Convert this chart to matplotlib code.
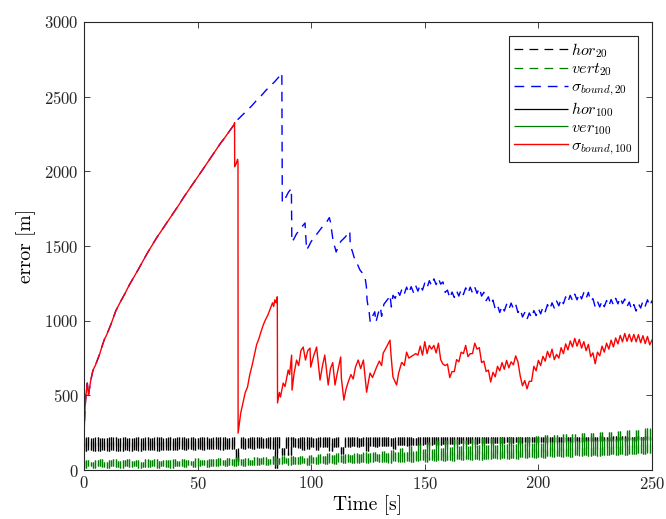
import numpy as np
import matplotlib
matplotlib.use('Agg')
import matplotlib.pyplot as plt

plt.rcParams['font.family'] = 'cmr10'
plt.rcParams['mathtext.fontset'] = 'cm'
plt.rcParams['axes.formatter.use_mathtext'] = True

# horizontal / vertical errors, 1 s samples from t = 0 to 250
osc_t = np.arange(0, 251)
hor_100 = [
    215, 128, 219, 132, 217, 126, 220, 130, 218, 134,
    216, 129, 219, 133, 221, 127, 217, 131, 219, 135,
    218, 130, 216, 134, 220, 129, 218, 136, 221, 132,
    217, 137, 219, 131, 222, 135, 218, 133, 220, 138,
    216, 134, 219, 139, 221, 136, 217, 140, 220, 135,
    218, 141, 222, 137, 219, 142, 217, 139, 221, 143,
    219, 138, 220, 144, 218, 141, 222, 145, 60, 146,
    220, 143, 218, 147, 221, 144, 219, 148, 222, 146,
    218, 149, 221, 145, 219, 15, 220, 147, 100, 151,
    219, 100, 222, 152, 218, 148, 221, 138, 219, 140,
    220, 154, 218, 135, 222, 156, 219, 152, 221, 130,
    218, 157, 220, 153, 110, 158, 222, 155, 219, 159,
    221, 156, 218, 160, 222, 130, 220, 161, 219, 158,
    221, 163, 219, 160, 222, 165, 218, 140, 221, 166,
    219, 168, 222, 164, 220, 170, 218, 167, 221, 171,
    220, 173, 222, 169, 219, 175, 221, 172, 223, 176,
    220, 174, 222, 178, 219, 175, 221, 179, 223, 177,
    221, 180, 219, 178, 222, 182, 220, 179, 223, 183,
    221, 181, 223, 185, 220, 182, 222, 186, 224, 184,
    221, 187, 223, 185, 222, 188, 224, 186, 221, 189,
    223, 190, 222, 188, 224, 191, 221, 189, 225, 192,
    222, 190, 224, 193, 223, 191, 225, 194, 222, 192,
    224, 195, 223, 193, 225, 196, 222, 194, 226, 197,
    225, 195, 223, 198, 226, 196, 224, 199, 227, 197,
    225, 200, 223, 198, 227, 201, 224, 199, 226, 202,
    225,
]
ver_100 = [
    62, 18, 70, 25, 55, 12, 68, 30, 74, 20,
    58, 15, 66, 28, 72, 22, 60, 14, 69, 26,
    75, 19, 63, 31, 70, 17, 57, 24, 73, 21,
    66, 27, 78, 16, 61, 29, 71, 23, 67, 18,
    74, 30, 59, 25, 76, 20, 68, 32, 63, 22,
    80, 28, 70, 35, 65, 24, 77, 31, 72, 26,
    84, 33, 69, 27, 79, 36, 74, 30, 88, 38,
    76, 29, 85, 37, 71, 34, 90, 32, 80, 40,
    87, 35, 78, 42, 92, 33, 84, 39, 95, 45,
    82, 36, 98, 44, 88, 40, 94, 47, 85, 38,
    102, 46, 90, 41, 108, 50, 96, 44, 112, 48,
    99, 43, 115, 52, 104, 47, 110, 55, 100, 45,
    118, 50, 106, 57, 122, 48, 112, 54, 125, 60,
    110, 52, 128, 58, 116, 50, 132, 62, 120, 55,
    150, 58, 125, 64, 160, 55, 130, 60, 175, 66,
    140, 58, 190, 65, 145, 60, 200, 68, 150, 62,
    205, 70, 155, 63, 210, 72, 160, 66, 200, 74,
    165, 68, 212, 75, 170, 70, 215, 78, 168, 72,
    218, 80, 172, 74, 220, 82, 175, 76, 222, 84,
    178, 78, 225, 86, 180, 80, 222, 88, 182, 82,
    230, 90, 185, 84, 235, 92, 190, 86, 238, 95,
    192, 88, 240, 97, 195, 90, 245, 99, 198, 93,
    250, 100, 200, 95, 248, 102, 205, 98, 255, 104,
    208, 100, 258, 106, 210, 102, 262, 108, 215, 104,
    268, 110, 218, 106, 272, 112, 222, 108, 280, 114,
    285,
]
# with 20 satellites the position errors are the same
hor_20 = hor_100
vert_20 = ver_100

# error bound before the first reset (shared by both runs)
growth_t = [0, 0.5, 1, 1.5, 2, 3, 4, 5, 6, 7, 8, 9, 10, 12, 14, 16, 18, 20,
            22, 24, 26, 28, 30, 32, 34, 36, 38, 40, 42, 44, 46, 48, 50, 52,
            54, 56, 58, 60, 62, 64, 66, 66.3]
growth_v = [220, 420, 520, 583, 500, 600, 670, 700, 740, 780, 830, 875, 905,
            980, 1065, 1125, 1180, 1240, 1292, 1345, 1400, 1455, 1505, 1555,
            1600, 1645, 1690, 1735, 1780, 1828, 1872, 1915, 1960, 2005, 2050,
            2095, 2140, 2185, 2225, 2268, 2310, 2325]

bound100_t = [
    66.35, 67, 67.6, 67.8, 67.85, 69, 70, 71, 72, 73, 74, 75, 76, 77, 78,
    79, 80, 81, 82, 83, 83.5, 84, 84.5, 85.1, 85.2, 86, 86.5, 87.7, 88.5,
    89.9, 90.5, 91.4, 91.6, 92.5, 93.6, 94.5, 95.5, 96.5, 97.5, 98.5, 99.5,
    99.8, 101, 102.4, 103.9, 105, 106, 107.5, 108.5, 109.5, 110.5, 111.5,
    113, 113.3, 114.4, 115.3, 116.3, 117.5, 118.5, 119.5, 120.7, 121.8, 123,
    124.4, 125.9, 127, 128.8, 130, 131, 131.7, 133, 134.7, 135.2, 136,
    137.6, 138.5, 139.8,
    140, 141, 142, 143, 144, 145, 146, 147, 148, 149,
    150, 151, 152, 153, 154, 155, 156, 157, 158, 159,
    160, 161, 162, 163, 164, 165, 166, 167, 168, 169,
    170, 171, 172, 173, 174, 175, 176, 177, 178, 179,
    180, 181, 182, 183, 184, 185, 186, 187, 188, 189,
    190, 191, 192, 193, 194, 195, 196, 197, 198, 199,
    200, 201, 202, 203, 204, 205, 206, 207, 208, 209,
    210, 211, 212, 213, 214, 215, 216, 217, 218, 219,
    220, 221, 222, 223, 224, 225, 226, 227, 228, 229,
    230, 231, 232, 233, 234, 235, 236, 237, 238, 239,
    240, 241, 242, 243, 244, 245, 246, 247, 248, 249, 250,
]
bound100_v = [
    2030, 2050, 2080, 2060, 248, 382, 450, 520, 557, 640, 700, 770, 840, 880,
    930, 975, 1010, 1040, 1080, 1120, 1095, 1140, 1120, 1160, 450, 520, 490,
    583, 560, 670, 640, 770, 536, 650, 737, 700, 800, 824, 737, 800, 817,
    690, 760, 824, 603, 700, 770, 570, 680, 720, 570, 650,
    757, 616, 469, 540, 590, 640, 610, 690, 737, 680, 737,
    522, 650, 620, 690, 730, 700, 783, 820, 870, 760, 623,
    570, 650, 720,
    720, 700, 790, 750, 760, 770, 780, 770, 830, 770,
    860, 780, 835, 810, 835, 785, 850, 740, 710, 700,
    710, 620, 660, 660, 740, 725, 790, 780, 835, 760,
    780, 780, 850, 810, 820, 720, 730, 660, 670, 590,
    655, 625, 695, 665, 720, 675, 735, 685, 725, 705,
    765, 725, 630, 565, 600, 545, 595, 595, 695, 665,
    735, 700, 762, 730, 795, 755, 810, 740, 775, 750,
    820, 780, 845, 805, 865, 825, 882, 830, 875, 817,
    860, 800, 842, 760, 785, 712, 790, 765, 830, 790,
    850, 810, 870, 825, 885, 845, 902, 859, 915, 863,
    910, 860, 909, 859, 907, 853, 900, 847, 895, 839, 870,
]

bound20_t = [
    68, 70, 72, 74, 76, 78, 80, 82, 84, 86, 87.1, 87.3, 88, 89, 90, 91.3,
    91.5, 92.5, 93.5, 95, 96, 97.3, 98, 99, 100, 101, 102, 103, 104, 105,
    106, 107, 108, 108.5, 109.6, 111, 112, 113, 114, 115, 116, 117, 117.2,
    118, 119, 120, 121.5, 122.5, 123.7, 124.3, 124.6, 125, 125.5, 126, 127,
    128, 128.5, 129.5, 130.5, 131, 132, 133, 134, 134.7, 135.3,
    136, 137, 138, 139,
    140, 141, 142, 143, 144, 145, 146, 147, 148, 149,
    150, 151, 152, 153, 154, 155, 156, 157, 158, 159,
    160, 161, 162, 163, 164, 165, 166, 167, 168, 169,
    170, 171, 172, 173, 174, 175, 176, 177, 178, 179,
    180, 181, 182, 183, 184, 185, 186, 187, 188, 189,
    190, 191, 192, 193, 194, 195, 196, 197, 198, 199,
    200, 201, 202, 203, 204, 205, 206, 207, 208, 209,
    210, 211, 212, 213, 214, 215, 216, 217, 218, 219,
    220, 221, 222, 223, 224, 225, 226, 227, 228, 229,
    230, 231, 232, 233, 234, 235, 236, 237, 238, 239,
    240, 241, 242, 243, 244, 245, 246, 247, 248, 249, 250,
]
bound20_v = [
    2350, 2380, 2410, 2440, 2475, 2505, 2540, 2570, 2600, 2635, 2658, 1790,
    1800, 1830, 1860, 1885, 1527, 1550, 1580, 1610, 1630, 1654, 1473, 1500,
    1530, 1550, 1570, 1590, 1610, 1630, 1645, 1665, 1690, 1660, 1540, 1460,
    1500, 1530, 1545, 1560, 1580, 1600, 1507, 1470, 1420, 1390, 1339, 1320,
    1292, 1230, 1140, 1100, 1060, 991, 1030, 1060, 990, 1050, 1090, 1030,
    1110, 1130, 1150, 1172, 1092,
    1170, 1150, 1200, 1170,
    1215, 1180, 1225, 1185, 1228, 1190, 1235, 1198, 1242, 1205,
    1252, 1220, 1268, 1235, 1280, 1242, 1284, 1245, 1260, 1190,
    1205, 1150, 1192, 1156, 1200, 1165, 1210, 1175, 1220, 1183,
    1225, 1186, 1225, 1183, 1220, 1165, 1190, 1135, 1160, 1108,
    1138, 1080, 1105, 1055, 1100, 1065, 1110, 1075, 1118, 1080,
    1110, 1055, 1080, 1025, 1055, 1010, 1052, 1020, 1068, 1035,
    1082, 1046, 1092, 1060, 1108, 1075, 1120, 1085, 1132, 1100,
    1147, 1114, 1160, 1126, 1170, 1135, 1178, 1140, 1183, 1146,
    1188, 1150, 1190, 1130, 1148, 1092, 1130, 1092, 1133, 1094,
    1135, 1098, 1142, 1106, 1150, 1113, 1155, 1115, 1145, 1095,
    1125, 1075, 1108, 1065, 1115, 1085, 1132, 1098, 1140, 1098, 1135,
]

green = (0, 0.5, 0)
dash = (7, 5)

fig, ax = plt.subplots(figsize=(6.66, 5.19), dpi=100)
fig.subplots_adjust(left=0.126, right=0.979, bottom=0.094, top=0.958)

# fast oscillating errors: one stroke per sample, from value to next value
ax.vlines(osc_t[:-1], hor_20[:-1], hor_20[1:], color='k', lw=0.9,
          linestyles=[(0, dash)], label=r'$hor_{20}$')
ax.vlines(osc_t[:-1], vert_20[:-1], vert_20[1:], color=green, lw=0.9,
          linestyles=[(0, dash)], label=r'$vert_{20}$')
ax.plot(growth_t + bound20_t, growth_v + bound20_v, color='b', lw=1.0,
        dashes=dash, label=r'$\sigma_{bound,20}$')
ax.vlines(osc_t[:-1], hor_100[:-1], hor_100[1:], color='k', lw=0.9,
          label=r'$hor_{100}$')
ax.vlines(osc_t[:-1], ver_100[:-1], ver_100[1:], color=green, lw=0.9,
          label=r'$ver_{100}$')
ax.plot(growth_t + bound100_t, growth_v + bound100_v, color='r', lw=1.0,
        label=r'$\sigma_{bound,100}$')

ax.set_xlim(0, 250)
ax.set_ylim(0, 3000)
ax.set_xticks(np.arange(0, 251, 50))
ax.set_yticks(np.arange(0, 3001, 500))
ax.tick_params(direction='in', length=4, width=0.6, labelsize=12,
               top=True, right=True, colors='0.15')
for s in ax.spines.values():
    s.set_color('0.15')
    s.set_linewidth(0.8)
ax.set_xlabel('Time [s]', fontsize=14, labelpad=2)
ax.set_ylabel('error [m]', fontsize=14, labelpad=6)

leg = ax.legend(loc='upper right', fontsize=11.5, handlelength=3.4,
                fancybox=False, framealpha=1, edgecolor='0.15',
                borderaxespad=0.9, borderpad=0.3, labelspacing=0.12,
                handletextpad=0.2)
leg.get_frame().set_linewidth(0.8)

plt.savefig('out.png', dpi=100)
